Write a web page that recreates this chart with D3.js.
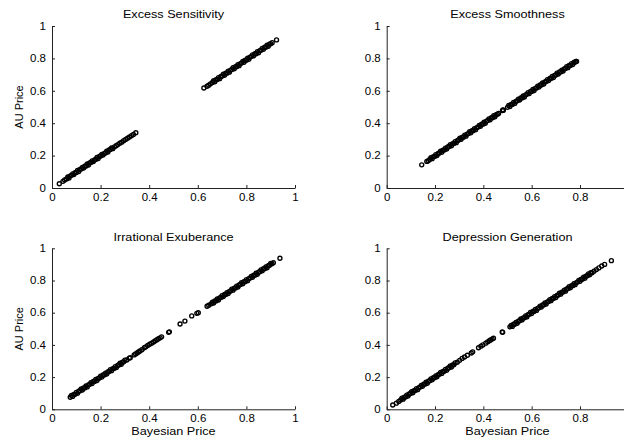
<!DOCTYPE html>
<html><head><meta charset="utf-8">
<script src="https://cdn.jsdelivr.net/npm/d3@7"></script>
<style>body{margin:0;background:#fff}svg{display:block}text{font-family:"Liberation Sans",Arial,Helvetica,sans-serif;fill:#000}</style>
</head><body>
<script>
// ---- data: [Bayesian Price, AU Price] pairs ----
const titles = ["Excess Sensitivity","Excess Smoothness","Irrational Exuberance","Depression Generation"];
const xLabel = "Bayesian Price";
const yLabel = "AU Price";
const tickValues = [0,0.2,0.4,0.6,0.8,1];
const tickLabels = ["0","0.2","0.4","0.6","0.8","1"];

const esPoints = [[0.030,0.026],[0.045,0.041],[0.052,0.050],
[0.060,0.056],[0.065,0.068],[0.070,0.062],[0.075,0.075],[0.080,0.078],[0.085,0.087],[0.090,0.083],[0.095,0.094],[0.100,0.096],[0.105,0.108],
[0.110,0.102],[0.115,0.115],[0.120,0.118],[0.125,0.127],[0.130,0.123],[0.135,0.134],[0.140,0.136],[0.145,0.148],[0.150,0.142],[0.155,0.155],
[0.160,0.158],[0.165,0.167],[0.170,0.163],[0.175,0.174],[0.180,0.176],[0.185,0.188],[0.190,0.182],[0.195,0.195],[0.200,0.198],[0.205,0.207],
[0.210,0.203],[0.215,0.214],[0.220,0.216],[0.225,0.228],[0.230,0.222],[0.235,0.235],[0.240,0.238],[0.245,0.247],[0.250,0.243],
[0.257,0.254],[0.264,0.261],[0.271,0.268],[0.279,0.276],[0.287,0.283],[0.295,0.292],[0.303,0.300],[0.311,0.307],[0.319,0.315],[0.327,0.323],[0.335,0.331],[0.345,0.341],
[0.625,0.617],[0.638,0.628],[0.645,0.634],[0.652,0.643],
[0.660,0.651],[0.665,0.662],[0.670,0.656],[0.675,0.669],[0.680,0.669],[0.685,0.681],[0.690,0.675],[0.695,0.688],[0.700,0.691],[0.705,0.702],
[0.710,0.696],[0.715,0.709],[0.720,0.709],[0.725,0.721],[0.730,0.715],[0.735,0.728],[0.740,0.731],[0.745,0.742],[0.750,0.736],[0.755,0.749],
[0.760,0.749],[0.765,0.761],[0.770,0.755],[0.775,0.768],[0.780,0.771],[0.785,0.782],[0.790,0.776],[0.795,0.789],[0.800,0.789],[0.805,0.801],
[0.810,0.795],[0.815,0.808],[0.820,0.811],[0.825,0.822],[0.830,0.816],[0.835,0.829],[0.840,0.829],[0.845,0.841],[0.850,0.835],[0.855,0.848],
[0.860,0.851],[0.865,0.862],[0.870,0.856],[0.875,0.869],[0.880,0.869],[0.885,0.881],[0.890,0.875],[0.895,0.888],[0.900,0.891],
[0.906,0.897],[0.924,0.914]];

const smPoints = [[0.145,0.143],[0.166,0.164],[0.172,0.168],
[0.178,0.176],[0.183,0.187],[0.188,0.181],[0.193,0.194],[0.198,0.194],[0.203,0.206],[0.208,0.200],[0.213,0.213],[0.218,0.216],[0.223,0.227],
[0.228,0.221],[0.233,0.234],[0.238,0.234],[0.243,0.246],[0.248,0.240],[0.253,0.253],[0.258,0.256],[0.263,0.267],[0.268,0.261],[0.273,0.274],
[0.278,0.274],[0.283,0.286],[0.288,0.280],[0.293,0.293],[0.298,0.296],[0.303,0.307],[0.308,0.301],[0.313,0.314],[0.318,0.314],[0.323,0.326],
[0.328,0.320],[0.333,0.333],[0.338,0.336],[0.343,0.347],[0.348,0.341],[0.353,0.354],[0.358,0.354],[0.363,0.366],[0.368,0.360],[0.373,0.373],
[0.378,0.376],[0.383,0.387],[0.388,0.381],[0.393,0.394],[0.398,0.394],[0.403,0.406],[0.408,0.400],[0.413,0.413],[0.418,0.416],[0.423,0.427],
[0.428,0.421],[0.433,0.434],[0.438,0.434],[0.443,0.446],[0.448,0.440],[0.453,0.453],[0.458,0.456],[0.463,0.460],
[0.479,0.478],[0.481,0.482],[0.483,0.480],
[0.500,0.498],[0.505,0.509],[0.510,0.503],[0.515,0.516],[0.520,0.516],[0.525,0.528],[0.530,0.522],[0.535,0.535],[0.540,0.538],[0.545,0.549],
[0.550,0.543],[0.555,0.556],[0.560,0.556],[0.565,0.568],[0.570,0.562],[0.575,0.575],[0.580,0.578],[0.585,0.589],[0.590,0.583],[0.595,0.596],
[0.600,0.596],[0.605,0.608],[0.610,0.602],[0.615,0.615],[0.620,0.618],[0.625,0.629],[0.630,0.623],[0.635,0.636],[0.640,0.636],[0.645,0.648],
[0.650,0.642],[0.655,0.655],[0.660,0.658],[0.665,0.669],[0.670,0.663],[0.675,0.676],[0.680,0.676],[0.685,0.688],[0.690,0.682],[0.695,0.695],
[0.700,0.698],[0.705,0.709],[0.710,0.703],[0.715,0.716],[0.720,0.716],[0.725,0.728],[0.730,0.722],[0.735,0.735],[0.740,0.738],[0.745,0.749],
[0.750,0.743],[0.755,0.756],[0.760,0.756],[0.765,0.768],[0.770,0.762],[0.775,0.775],[0.780,0.778],[0.784,0.781],[0.786,0.782]];

const iePoints = [
[0.075,0.075],[0.080,0.086],[0.085,0.080],[0.090,0.093],[0.095,0.093],[0.100,0.105],[0.105,0.099],[0.110,0.112],[0.115,0.115],[0.120,0.126],
[0.125,0.120],[0.130,0.133],[0.135,0.133],[0.140,0.145],[0.145,0.139],[0.150,0.152],[0.155,0.155],[0.160,0.166],[0.165,0.160],[0.170,0.173],
[0.175,0.173],[0.180,0.185],[0.185,0.179],[0.190,0.192],[0.195,0.195],[0.200,0.206],[0.205,0.200],[0.210,0.213],[0.215,0.213],[0.220,0.225],
[0.225,0.219],[0.230,0.232],[0.235,0.235],[0.240,0.246],[0.245,0.240],[0.250,0.253],[0.255,0.253],[0.260,0.265],[0.265,0.259],[0.270,0.272],
[0.275,0.275],[0.280,0.286],[0.285,0.280],[0.290,0.293],[0.295,0.295],[0.300,0.305],
[0.308,0.306],[0.318,0.318],[0.322,0.320],[0.338,0.338],[0.344,0.344],[0.350,0.350],[0.356,0.356],[0.362,0.362],[0.370,0.370],[0.380,0.382],
[0.386,0.388],[0.394,0.396],[0.402,0.404],[0.410,0.410],[0.418,0.418],[0.425,0.426],[0.432,0.432],[0.438,0.438],[0.445,0.444],[0.451,0.450],
[0.480,0.478],[0.483,0.481],[0.527,0.530],[0.547,0.548],[0.575,0.580],[0.596,0.596],[0.602,0.600],[0.638,0.640],[0.645,0.646],
[0.655,0.655],[0.660,0.666],[0.665,0.660],[0.670,0.673],[0.675,0.673],[0.680,0.685],[0.685,0.679],[0.690,0.692],[0.695,0.695],[0.700,0.706],
[0.705,0.700],[0.710,0.713],[0.715,0.713],[0.720,0.725],[0.725,0.719],[0.730,0.732],[0.735,0.735],[0.740,0.746],[0.745,0.740],[0.750,0.753],
[0.755,0.753],[0.760,0.765],[0.765,0.759],[0.770,0.772],[0.775,0.775],[0.780,0.786],[0.785,0.780],[0.790,0.793],[0.795,0.793],[0.800,0.805],
[0.805,0.799],[0.810,0.812],[0.815,0.815],[0.820,0.826],[0.825,0.820],[0.830,0.833],[0.835,0.833],[0.840,0.845],[0.845,0.839],[0.850,0.852],
[0.855,0.855],[0.860,0.866],[0.865,0.860],[0.870,0.873],[0.875,0.873],[0.880,0.885],[0.885,0.879],[0.890,0.892],[0.895,0.895],[0.900,0.906],
[0.905,0.904],[0.911,0.910],[0.938,0.938]];

const dgPoints = [[0.025,0.027],[0.040,0.038],[0.050,0.049],
[0.058,0.058],[0.063,0.069],[0.068,0.063],[0.073,0.076],[0.078,0.076],[0.083,0.088],[0.088,0.082],[0.093,0.095],[0.098,0.098],[0.103,0.109],
[0.108,0.103],[0.113,0.116],[0.118,0.116],[0.123,0.128],[0.128,0.122],[0.133,0.135],[0.138,0.138],[0.143,0.149],[0.148,0.143],[0.153,0.156],
[0.158,0.156],[0.163,0.168],[0.168,0.162],[0.173,0.175],[0.178,0.178],[0.183,0.189],[0.188,0.183],[0.193,0.196],[0.198,0.196],[0.203,0.208],
[0.208,0.202],[0.213,0.215],[0.218,0.218],[0.223,0.229],[0.228,0.223],[0.233,0.236],[0.238,0.236],[0.243,0.248],[0.248,0.242],[0.253,0.255],
[0.258,0.258],[0.263,0.269],[0.268,0.263],[0.273,0.276],[0.278,0.276],[0.283,0.288],
[0.292,0.292],[0.302,0.304],[0.312,0.316],[0.322,0.325],[0.334,0.336],[0.350,0.350],[0.356,0.357],[0.380,0.382],[0.390,0.392],[0.398,0.400],
[0.410,0.411],[0.418,0.419],[0.425,0.426],[0.430,0.431],[0.436,0.436],[0.442,0.441],[0.478,0.480],[0.480,0.478],
[0.510,0.512],[0.515,0.521],[0.520,0.515],[0.525,0.528],[0.530,0.528],[0.535,0.540],[0.540,0.534],[0.545,0.547],[0.550,0.550],[0.555,0.561],
[0.560,0.555],[0.565,0.568],[0.570,0.568],[0.575,0.580],[0.580,0.574],[0.585,0.587],[0.590,0.590],[0.595,0.601],[0.600,0.595],[0.605,0.608],
[0.610,0.608],[0.615,0.620],[0.620,0.614],[0.625,0.627],[0.630,0.630],[0.635,0.641],[0.640,0.635],[0.645,0.648],[0.650,0.648],[0.655,0.660],
[0.660,0.654],[0.665,0.667],[0.670,0.670],[0.675,0.681],[0.680,0.675],[0.685,0.688],[0.690,0.688],[0.695,0.700],[0.700,0.694],[0.705,0.707],
[0.710,0.710],[0.715,0.721],[0.720,0.715],[0.725,0.728],[0.730,0.728],[0.735,0.740],[0.740,0.734],[0.745,0.747],[0.750,0.750],[0.755,0.761],
[0.760,0.755],[0.765,0.768],[0.770,0.768],[0.775,0.780],[0.780,0.774],[0.785,0.787],[0.790,0.790],[0.795,0.801],[0.800,0.795],[0.805,0.808],
[0.810,0.808],[0.815,0.820],[0.820,0.814],[0.825,0.827],[0.830,0.830],[0.835,0.841],[0.840,0.835],[0.845,0.848],[0.850,0.848],
[0.858,0.858],[0.868,0.868],[0.878,0.878],[0.890,0.890],[0.902,0.900],[0.930,0.923]];

// ---- layout ----
const W = 624, H = 439, SX = 1.15;
const panels = [
  {title: titles[0], pts: esPoints, xr: [52, 295], yr: [188, 26], ylab: true, xlab: false, xt: tickValues},
  {title: titles[1], pts: smPoints, xr: [386.7, 628.3], yr: [188, 26], ylab: false, xlab: false, xt: tickValues.slice(0,5)},
  {title: titles[2], pts: iePoints, xr: [52, 295], yr: [409.3, 248.3], ylab: true, xlab: true, xt: tickValues},
  {title: titles[3], pts: dgPoints, xr: [386.7, 628.3], yr: [409.3, 248.3], ylab: false, xlab: true, xt: tickValues.slice(0,5)}
];

const svg = d3.select("body").append("svg").attr("width", W).attr("height", H);
svg.append("rect").attr("width", W).attr("height", H).attr("fill", "#fff");

function label(x, y, str, size, anchor) {
  svg.append("text").attr("transform", `translate(${x},${y}) scale(${SX},1)`)
    .attr("text-anchor", anchor).style("font-size", size + "px").text(str);
}
const fmt = v => tickLabels[tickValues.indexOf(v)];

panels.forEach(p => {
  const x = d3.scaleLinear().domain([0, 1]).range(p.xr);
  const y = d3.scaleLinear().domain([0, 1]).range(p.yr);
  const gx = svg.append("g").attr("transform", `translate(0,${p.yr[0]})`)
    .call(d3.axisBottom(x).tickValues(p.xt).tickFormat(fmt).tickSizeInner(-3).tickSizeOuter(0).tickPadding(6));
  const gy = svg.append("g").attr("transform", `translate(${p.xr[0]},0)`)
    .call(d3.axisLeft(y).tickValues(tickValues).tickFormat(fmt).tickSizeInner(-3).tickSizeOuter(0).tickPadding(6));
  [gx, gy].forEach(g => {
    g.select(".domain").attr("stroke", "#222");
    g.selectAll(".tick line").attr("stroke", "#222");
    g.selectAll(".tick text").style("font-size", "10px").attr("fill", "#000")
      .attr("font-family", null);
  });
  gy.selectAll(".tick text").attr("x", -6 / SX).attr("transform", `scale(${SX},1)`);
  gx.selectAll(".tick text").attr("transform", `scale(${SX},1)`);

  const cx = (p.xr[0] + p.xr[1]) / 2;
  label(cx, p.yr[1] - 7.8, p.title, 11, "middle");
  if (p.xlab) label(cx, p.yr[0] + 25.7, xLabel, 11, "middle");
  if (p.ylab) {
    svg.append("text").attr("transform", `translate(22.5,${(p.yr[0] + p.yr[1]) / 2}) rotate(-90)`)
      .attr("text-anchor", "middle").style("font-size", "11px").text(yLabel);
  }
  svg.append("g").selectAll("circle").data(p.pts).join("circle")
    .attr("cx", d => x(d[0])).attr("cy", d => y(d[1])).attr("r", 2)
    .attr("fill", "none").attr("stroke", "#000").attr("stroke-width", 1.35);
});
</script>
</body></html>
